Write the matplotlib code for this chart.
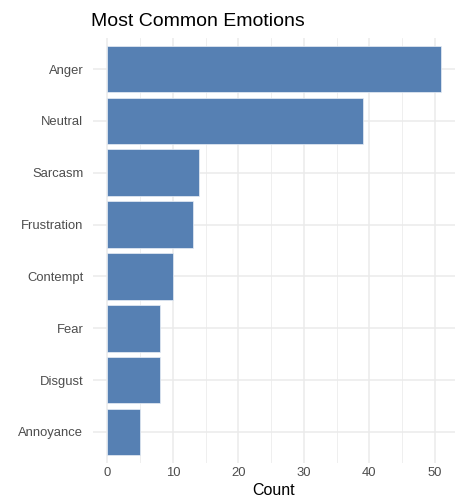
import matplotlib.pyplot as plt
import numpy as np

# Emotion counts, top to bottom
emotions = ["Anger", "Neutral", "Sarcasm", "Frustration", "Contempt", "Fear", "Disgust", "Annoyance"]
counts = [51, 39, 14, 13, 10, 8, 8, 5]
x_ticks = [0, 10, 20, 30, 40, 50]
x_minor = [5, 15, 25, 35, 45]

plt.rcParams["font.family"] = ["Liberation Sans", "DejaVu Sans"]

W, H = 455, 500
fig = plt.figure(figsize=(W / 100, H / 100), dpi=100)
left, right, top, bottom = 93, 455, 38, 463
ax = fig.add_axes([left / W, 1 - bottom / H, (right - left) / W, (bottom - top) / H])

ypos = np.arange(len(emotions))[::-1] + 1
ax.barh(ypos, counts, height=0.9, color="#5680B3", edgecolor="#E8EEF6", linewidth=0.5, zorder=3)

ax.set_xlim(-2.2, 53.1)
ax.set_ylim(0.4, 8.6)
ax.set_xticks(x_ticks)
ax.set_xticks(x_minor, minor=True)
ax.set_yticks(ypos)
ax.set_yticklabels(emotions)

ax.grid(True, which="major", color="#EBEBEB", linewidth=1.1, zorder=0)
ax.grid(True, which="minor", axis="x", color="#EBEBEB", linewidth=0.55, zorder=0)
for s in ax.spines.values():
    s.set_visible(False)
ax.tick_params(which="both", length=0, labelsize=9.4, labelcolor="#4D4D4D")
ax.tick_params(axis="y", pad=7)
ax.tick_params(axis="x", pad=3)

ax.set_xlabel("Count", fontsize=11.5, color="black", labelpad=3)
fig.text(91 / W, 1 - 26 / H, "Most Common Emotions", fontsize=14, color="black", ha="left", va="baseline")

fig.savefig("out.png", dpi=100)
